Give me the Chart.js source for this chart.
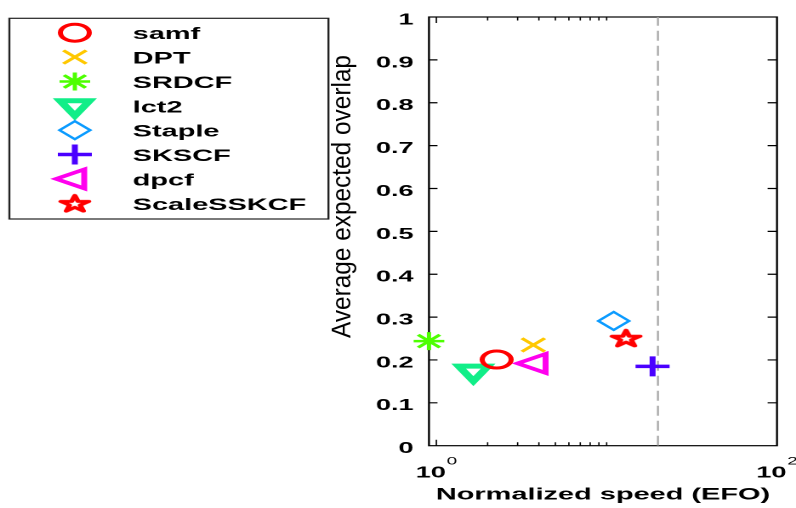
<!DOCTYPE html>
<html>
<head>
<meta charset="utf-8">
<script src="https://cdn.jsdelivr.net/npm/chart.js@4.4.1/dist/chart.umd.min.js"></script>
<style>
html, body { margin: 0; padding: 0; background: #fff; overflow: hidden; }
/* the reference is stretched sideways, so draw narrow and stretch the box */
#wrap { position: absolute; left: 0; top: 0; width: 468px; height: 508px; transform: scaleX(1.7009); transform-origin: 0 0; }
</style>
</head>
<body>
<div id="wrap"><canvas id="chart"></canvas></div>
<script>
// data
const methods = ['samf', 'DPT', 'SRDCF', 'lct2', 'Staple', 'SKSCF', 'dpcf', 'ScaleSSKCF'];
const speeds = [2.26, 3.71, 0.905, 1.65, 11.0, 18.6, 3.86, 13.0];
const overlaps = [0.201, 0.235, 0.244, 0.174, 0.291, 0.185, 0.192, 0.251];
const realtimeSpeed = [20, 20];
const realtimeOverlap = [0, 1];
const xMinorTicks = [1, 2, 3, 4, 5, 6, 7, 8, 9, 10];
const xLabelValues = [1, 100];
const xLabelExps = ['0', '2'];

// marker look
const colors = ['#ff0000', '#ffc800', '#4dff00', '#11ee88', '#0b9bff', '#4a00ff', '#ff00ee', '#ff0000'];
const markerStyles = ['circle', 'crossRot', 'star', 'triangle', 'rectRot', 'cross', 'triangle', 'pentagram'];
const markerRotations = [0, 0, 0, 180, 0, 0, 270, 0];
const markerRadii = [8.5, 9.5, 9, 10, 9, 10, 11, 10];
const markerWidths = [3, 2.5, 2.5, 5, 2, 3.5, 3.5, 3];

const FONT = '"Liberation Sans", Arial, sans-serif';

// 五角星 marker as an image (Chart.js has no pentagram)
function makePentagram(color, lw) {
    const size = 24, k = 2;
    const c = document.createElement('canvas');
    c.width = c.height = size * k;
    const g = c.getContext('2d');
    g.scale(k, k);
    const R = 8.6, r = R * 0.382, cx = 12, cy = 12.8;
    g.beginPath();
    for (let i = 0; i < 10; i++) {
        const a = -Math.PI / 2 + i * Math.PI / 5;
        const rr = i % 2 ? r : R;
        g.lineTo(cx + rr * Math.cos(a), cy + rr * Math.sin(a));
    }
    g.closePath();
    g.strokeStyle = color;
    g.lineWidth = lw;
    g.lineJoin = 'round';
    g.stroke();
    const img = new Image(size, size);
    img.src = c.toDataURL();
    return img;
}

// no extra space around the axes, the layout padding decides the plot box
function noScalePadding(s) {
    s.paddingTop = 0;
    s.paddingBottom = 0;
    s.paddingLeft = 0;
    s.paddingRight = 0;
}

// frame, inner ticks, x tick labels, y title
const axisFrame = {
    id: 'axisFrame',
    beforeDatasetsDraw(chart) {
        const {ctx, chartArea: a, scales: {x, y}} = chart;
        ctx.save();
        ctx.strokeStyle = '#000';
        ctx.lineWidth = 1.2;
        ctx.strokeRect(a.left, a.top, a.right - a.left, a.bottom - a.top);

        ctx.beginPath();
        y.ticks.forEach(t => {
            if (t.value <= 0 || t.value >= 1) return;
            const py = y.getPixelForValue(t.value);
            ctx.moveTo(a.left, py); ctx.lineTo(a.left + 5, py);
            ctx.moveTo(a.right, py); ctx.lineTo(a.right - 5.5, py);
        });
        ctx.stroke();

        ctx.lineWidth = 0.8;
        ctx.beginPath();
        xMinorTicks.forEach(v => {
            const px = x.getPixelForValue(v);
            const len = v === 1 ? 6 : 3.5;
            ctx.moveTo(px, a.bottom); ctx.lineTo(px, a.bottom - len);
            ctx.moveTo(px, a.top); ctx.lineTo(px, a.top + len);
        });
        ctx.stroke();
        ctx.restore();
    },
    afterDraw(chart) {
        const {ctx, chartArea: a, scales: {x}} = chart;
        ctx.save();
        ctx.fillStyle = '#000';
        ctx.textAlign = 'left';
        ctx.textBaseline = 'alphabetic';
        xLabelValues.forEach((v, i) => {
            const px = x.getPixelForValue(v);
            ctx.font = 'bold 16px ' + FONT;
            const w1 = ctx.measureText('10').width;
            ctx.font = '11px ' + FONT;
            const w2 = ctx.measureText(xLabelExps[i]).width;
            const left = px - (w1 + 0.5 + w2) / 2;
            ctx.font = 'bold 16px ' + FONT;
            ctx.fillText('10', left, a.bottom + 32);
            ctx.font = '11px ' + FONT;
            ctx.fillText(xLabelExps[i], left + w1 + 0.5, a.bottom + 19);
        });

        // y axis title, stretched along its length like the picture
        const yTitle = 'Average expected overlap';
        ctx.font = '16px ' + FONT;
        const tw = ctx.measureText(yTitle).width;
        ctx.translate(a.left - 50.7, 196.5);
        ctx.rotate(-Math.PI / 2);
        ctx.scale(283 / tw, 1);
        ctx.textAlign = 'center';
        ctx.textBaseline = 'middle';
        ctx.fillText(yTitle, 0, 0);
        ctx.restore();
    }
};

// legend box on the left
const boxLegend = {
    id: 'boxLegend',
    afterDraw(chart) {
        const ctx = chart.ctx;
        ctx.save();
        ctx.strokeStyle = '#222';
        ctx.lineWidth = 1.2;
        ctx.strokeRect(5.5, 18.3, 187.6, 200.7);
        methods.forEach((m, i) => {
            const cy = 32.7 + 24.37 * i;
            const ds = chart.data.datasets[i];
            ctx.strokeStyle = colors[i];
            ctx.fillStyle = 'rgba(0,0,0,0)';
            ctx.lineWidth = markerWidths[i];
            Chart.helpers.drawPoint(ctx, {
                pointStyle: ds.pointStyle,
                rotation: markerRotations[i],
                radius: markerRadii[i],
                borderWidth: markerWidths[i]
            }, 44, cy);
            ctx.fillStyle = '#000';
            ctx.font = 'bold 17px ' + FONT;
            ctx.textAlign = 'left';
            ctx.textBaseline = 'alphabetic';
            ctx.fillText(m, 78, cy + 6.5);
        });
        ctx.restore();
    }
};

function drawChart(starImg) {
    const datasets = methods.map((m, i) => ({
        label: m,
        data: [{x: speeds[i], y: overlaps[i]}],
        pointStyle: markerStyles[i] === 'pentagram' ? starImg : markerStyles[i],
        pointRotation: markerRotations[i],
        pointRadius: markerRadii[i],
        pointHoverRadius: markerRadii[i],
        pointBorderWidth: markerWidths[i],
        pointBorderColor: colors[i],
        pointBackgroundColor: 'rgba(0,0,0,0)',
        borderColor: colors[i],
        clip: false
    }));
    datasets.push({
        label: 'real-time',
        data: realtimeSpeed.map((v, i) => ({x: v, y: realtimeOverlap[i]})),
        showLine: true,
        borderColor: '#a3a3a3',
        borderWidth: 1.1,
        borderDash: [10, 5],
        pointRadius: 0
    });

    new Chart(document.getElementById('chart'), {
        type: 'scatter',
        data: {datasets},
        options: {
            responsive: true,
            maintainAspectRatio: false,
            animation: false,
            devicePixelRatio: 2,
            layout: {autoPadding: false, padding: {left: 192.2, right: 11.2, top: 17, bottom: 0}},
            plugins: {legend: {display: false}, tooltip: {enabled: false}},
            scales: {
                x: {
                    type: 'logarithmic',
                    min: 0.905,
                    max: 100,
                    ticks: {display: false},
                    grid: {display: false, drawTicks: false},
                    border: {display: false},
                    title: {
                        display: true,
                        text: 'Normalized speed (EFO)',
                        color: '#000',
                        font: {family: FONT, size: 17, weight: 'bold'},
                        padding: {top: 0, bottom: 2.8}
                    },
                    afterFit: s => { s.height = 62.3; noScalePadding(s); }
                },
                y: {
                    min: 0,
                    max: 1,
                    ticks: {
                        stepSize: 0.1,
                        color: '#000',
                        padding: 9,
                        labelOffset: 3,
                        font: {family: FONT, size: 16, weight: 'bold'},
                        callback: v => String(Number(v.toFixed(1)))
                    },
                    grid: {display: false, drawTicks: false},
                    border: {display: false},
                    afterFit: s => { s.width = 60; noScalePadding(s); }
                }
            }
        },
        plugins: [axisFrame, boxLegend]
    });
}

const star = makePentagram(colors[7], markerWidths[7]);
star.onload = () => drawChart(star);
</script>
</body>
</html>
